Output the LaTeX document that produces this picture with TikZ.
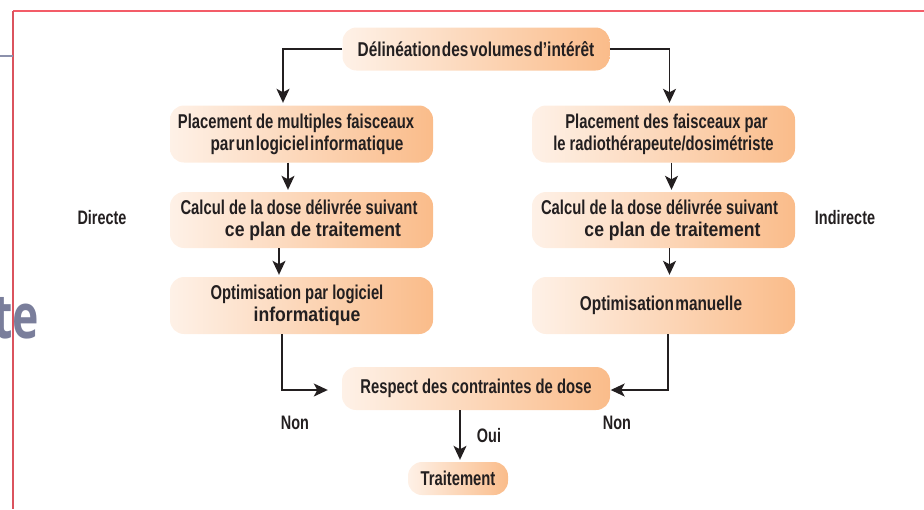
\documentclass[tikz,border=0pt]{standalone}
\usepackage{fontspec}
\setmainfont{Liberation Sans}[FakeStretch=0.74]
\newfontfamily\widefont{Liberation Sans}[FakeStretch=0.88]
\newfontfamily\tightfont{Liberation Sans}[FakeStretch=0.77,WordSpace=0.3]
\newfontfamily\titlefont{Open Sans}[FakeStretch=0.72]
\usetikzlibrary{arrows.meta,shadings}
\definecolor{boxL}{RGB}{254,241,231}
\definecolor{boxR}{RGB}{250,188,138}
\definecolor{redline}{RGB}{243,92,104}
\definecolor{slate}{RGB}{122,126,155}
\definecolor{greyline}{RGB}{140,145,172}
\definecolor{ink}{RGB}{35,31,32}
\tikzset{
  flowbox/.style={rounded corners=14pt, left color=boxL, right color=boxR,
    draw=none, align=center, inner sep=0pt, text=ink,
    font=\fontsize{20}{22}\selectfont\bfseries},
  lbl/.style={text=ink, font=\fontsize{19.5}{22}\selectfont\bfseries, inner sep=0pt},
  arr/.style={draw=ink, line width=1.4pt, -{Stealth[length=14pt,width=13pt,inset=3.5pt]}},
}
\begin{document}
\begin{tikzpicture}[x=1pt,y=-1pt]
\useasboundingbox (0,0) rectangle (924,509);
\begin{scope}
\clip (0,0) rectangle (924,509);
% frame lines
\draw[redline, line width=2pt] (13,11) -- (924,11);
\draw[redline!90!black, line width=1.1pt] (13,11) -- (13,509);
\draw[greyline, line width=1.6pt] (0,56) -- (13,56);
\node[anchor=base east, inner sep=0pt, text=slate, font=\titlefont\fontsize{62}{62}\selectfont\bfseries] (title) at (39,338) {te};

% boxes
\node[flowbox, minimum width=267pt, minimum height=43pt] (top) at (476,49)
  {\tightfont D\'elin\'eation des volumes d’int\'er\^et};
\node[flowbox, minimum width=263pt, minimum height=57pt] (L2) at (301.5,134)
  {Placement de multiples faisceaux\hspace*{11pt}\\
   \hspace*{11pt}{\tightfont par un logiciel informatique}};
\node[flowbox, minimum width=263pt, minimum height=57pt] (R2) at (663.5,134)
  {\hspace*{6pt}Placement des faisceaux par\\
   le radioth\'erapeute/dosim\'etriste};
\node[flowbox, minimum width=263pt, minimum height=56pt] (L3) at (301.5,220)
  {Calcul de la dose d\'elivr\'ee suivant\hspace*{5pt}\\
   \hspace*{23pt}{\widefont ce plan de traitement}};
\node[flowbox, minimum width=263pt, minimum height=56pt] (R3) at (663.5,220)
  {Calcul de la dose d\'elivr\'ee suivant\hspace*{8pt}\\
   \hspace*{18pt}{\widefont ce plan de traitement}};
\node[flowbox, minimum width=263pt, minimum height=57pt] (L4) at (301.5,305.5)
  {Optimisation par logiciel\hspace*{9pt}\\
   \hspace*{11pt}{\widefont informatique}};
\node[flowbox, minimum width=263pt, minimum height=57pt] (R4) at (663.5,305.5)
  {{\tightfont Optimisation manuelle}\hspace*{5pt}};
\node[flowbox, minimum width=268pt, minimum height=43pt] (resp) at (476,388.5)
  {Respect des contraintes de dose};
\node[flowbox, minimum width=100pt, minimum height=33pt] (trt) at (458,478.5)
  {Traitement};

% labels
\node[lbl] (dir) at (102,218) {Directe};
\node[lbl] (indir) at (845,218) {Indirecte};
\node[lbl] (nonL) at (295,423) {Non};
\node[lbl] (nonR) at (617,423) {Non};
\node[lbl] (oui) at (489,436) {Oui};

% connectors
\draw[arr, shorten >=2.5pt] (top.west) -| ([xshift=-18.5pt]L2.north);
\draw[arr, shorten >=2.5pt] (top.east) -| ([xshift=6pt]R2.north);
\draw[arr, shorten >=2pt] ([xshift=-13.5pt]L2.south) -- ([xshift=-13.5pt]L3.north);
\draw[arr, shorten >=2pt] ([xshift=8pt]R2.south) -- ([xshift=8pt]R3.north);
\draw[arr, shorten >=2pt] ([xshift=-22.5pt]L3.south) -- ([xshift=-22.5pt]L4.north);
\draw[arr, shorten >=2pt] ([xshift=6pt]R3.south) -- ([xshift=6pt]R4.north);
\draw[arr, shorten >=14pt] ([xshift=-19.5pt]L4.south) |- ([yshift=-1.5pt]resp.west);
\draw[arr, shorten >=0.5pt] ([xshift=4.5pt]R4.south) |- ([yshift=-1.5pt]resp.east);
\draw[arr, shorten >=2pt] ([xshift=-16pt]resp.south) -- ([xshift=-16pt]resp.south |- trt.north);
\end{scope}
\end{tikzpicture}
\end{document}
